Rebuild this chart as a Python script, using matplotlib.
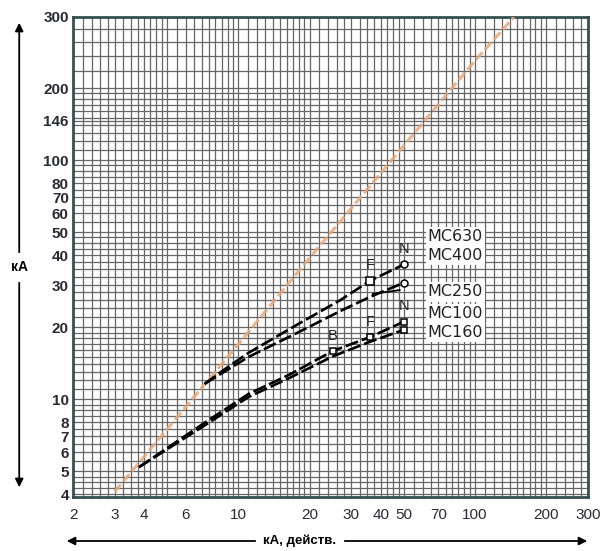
import numpy as np
import matplotlib
matplotlib.use("Agg")
import matplotlib.pyplot as plt
from matplotlib.ticker import FixedLocator, NullFormatter

plt.rcParams["font.family"] = ["Liberation Sans", "DejaVu Sans"]

# prospective peak current (orange diagonal), kA rms -> kA peak
peak_x = [3, 5, 10, 20, 50, 100, 146]
peak_y = [4.1, 7.5, 17, 39, 115, 234, 300]

# limited peak current curves
upper_x = [7.2, 8.8, 11, 18, 27, 36, 50]
mc630_y = [11.6, 13.4, 15.6, 20.7, 26.0, 31.3, 36.6]
mc250_y = [11.6, 13.1, 15.0, 19.1, 23.4, 26.8, 30.7]
lower_x = [3.8, 7.1, 11, 16.5, 25, 36, 50]
mc100_y = [5.2, 7.9, 10.5, 12.7, 15.9, 18.2, 21.1]
mc160_y = [5.2, 7.7, 10.2, 12.3, 15.1, 17.4, 19.5]

x_ticks = [2, 3, 4, 6, 10, 20, 30, 40, 50, 70, 100, 200, 300]
y_ticks = [4, 5, 6, 7, 8, 10, 20, 30, 40, 50, 60, 70, 80, 100, 146, 200, 300]

# the printed chart's log paper is stretched above 200 kA
Y_BREAK, Y_STRETCH = 200.0, 1.69


def y_fwd(v):
    lv = np.log10(np.clip(np.asarray(v, float), 1e-6, None))
    lb = np.log10(Y_BREAK)
    return np.where(lv > lb, lb + (lv - lb) * Y_STRETCH, lv)


def y_inv(u):
    u = np.asarray(u, float)
    lb = np.log10(Y_BREAK)
    return np.where(u > lb, 10 ** (lb + (u - lb) / Y_STRETCH), 10 ** u)


def paper_lines(lo, hi):
    steps = (list(np.arange(1.0, 2.0, 0.1)) + list(np.arange(2.0, 3.0, 0.2))
             + list(np.arange(3.0, 5.0, 0.25)) + list(np.arange(5.0, 10.0, 0.5)))
    vals = [s * d for d in (1, 10, 100) for s in steps]
    return [v for v in vals if lo <= v <= hi]


fig = plt.figure(figsize=(6.01, 5.51), dpi=100)
ax = fig.add_axes([73 / 601, 1 - 497 / 551, 515 / 601, 480 / 551])
ax.set_xscale("log")
ax.set_yscale("function", functions=(y_fwd, y_inv))
ax.set_xlim(2, 300)
ax.set_ylim(3.9, 300)

ax.xaxis.set_major_locator(FixedLocator(x_ticks))
ax.set_xticklabels([str(t) for t in x_ticks])
ax.yaxis.set_major_locator(FixedLocator(y_ticks))
ax.set_yticklabels([str(t) for t in y_ticks], fontweight="bold")
ax.xaxis.set_minor_locator(FixedLocator(paper_lines(2, 300)))
ax.yaxis.set_minor_locator(FixedLocator(paper_lines(3.9, 300)))
ax.xaxis.set_minor_formatter(NullFormatter())
ax.yaxis.set_minor_formatter(NullFormatter())
ax.tick_params(which="both", length=0, labelsize=11, labelcolor="#2a2a35")
ax.tick_params(axis="x", pad=8)
ax.tick_params(axis="y", pad=3)
ax.grid(which="both", color="#666666", lw=0.9)
for s in ax.spines.values():
    s.set_color("#36504f")
    s.set_linewidth(2)

ax.plot(peak_x, peak_y, color="#e6a97c", lw=2.3, ls=(0, (3, 1.2)), alpha=0.85, zorder=3)

for xs, ys in [(upper_x, mc630_y), (upper_x, mc250_y), (lower_x, mc100_y), (lower_x, mc160_y)]:
    ax.plot(xs, ys, color="black", lw=1.9, ls=(0, (5, 1.5)), zorder=4)

mk = dict(mfc="white", mec="black", mew=1.1, zorder=5, ls="none")
ax.plot(upper_x[-2], mc630_y[-2], "s", ms=6, **mk)
ax.plot(upper_x[-1], mc630_y[-1], "o", ms=5, **mk)
ax.plot(upper_x[-1], mc250_y[-1], "o", ms=5, **mk)
ax.plot(lower_x[-3:], mc100_y[-3:], "s", ms=5, **mk)
ax.plot(lower_x[-1], mc160_y[-1], "s", ms=5, **mk)

for letter, xy in [("F", (upper_x[-2], mc630_y[-2])), ("N", (upper_x[-1], mc630_y[-1])),
                   ("B", (lower_x[-3], mc100_y[-3])), ("F", (lower_x[-2], mc100_y[-2])),
                   ("N", (lower_x[-1], mc100_y[-1]))]:
    ax.annotate(letter, xy=xy, xytext=(0, 11), textcoords="offset points",
                ha="center", va="center", fontsize=10.5, color="#222", zorder=6)

lab = dict(fontsize=11.5, family="DejaVu Sans", color="#222", va="center", ha="left",
           zorder=6, bbox=dict(fc="white", ec="none", pad=1.5))
ax.text(63, 48.0, "MC630", **lab)
ax.text(63, 39.9, "MC400", **lab)
ax.text(63, 28.1, "MC250", **lab)
ax.text(63, 22.8, "MC100", **lab)
ax.text(63, 19.1, "MC160", **lab)
ax.plot([37, 48], [27.6, 28.6], color="black", lw=1.3, zorder=5)

arrow = dict(arrowstyle="-|>", color="black", lw=1.3, mutation_scale=12)
fig.text(0.032, 1 - 267 / 551, "кА", ha="center", va="center", fontsize=10, fontweight="bold")
fig.add_artist(matplotlib.patches.FancyArrowPatch((0.032, 1 - 255 / 551), (0.032, 1 - 20 / 551),
                                                  transform=fig.transFigure, **arrow))
fig.add_artist(matplotlib.patches.FancyArrowPatch((0.032, 1 - 280 / 551), (0.032, 1 - 490 / 551),
                                                  transform=fig.transFigure, **arrow))
fig.text(300 / 601, 1 - 541 / 551, "кА, действ.", ha="center", va="center", fontsize=9.5,
         fontweight="bold")
fig.add_artist(matplotlib.patches.FancyArrowPatch((258 / 601, 1 - 541 / 551), (64 / 601, 1 - 541 / 551),
                                                  transform=fig.transFigure, **arrow))
fig.add_artist(matplotlib.patches.FancyArrowPatch((342 / 601, 1 - 541 / 551), (590 / 601, 1 - 541 / 551),
                                                  transform=fig.transFigure, **arrow))

fig.savefig("out.png", dpi=100)
